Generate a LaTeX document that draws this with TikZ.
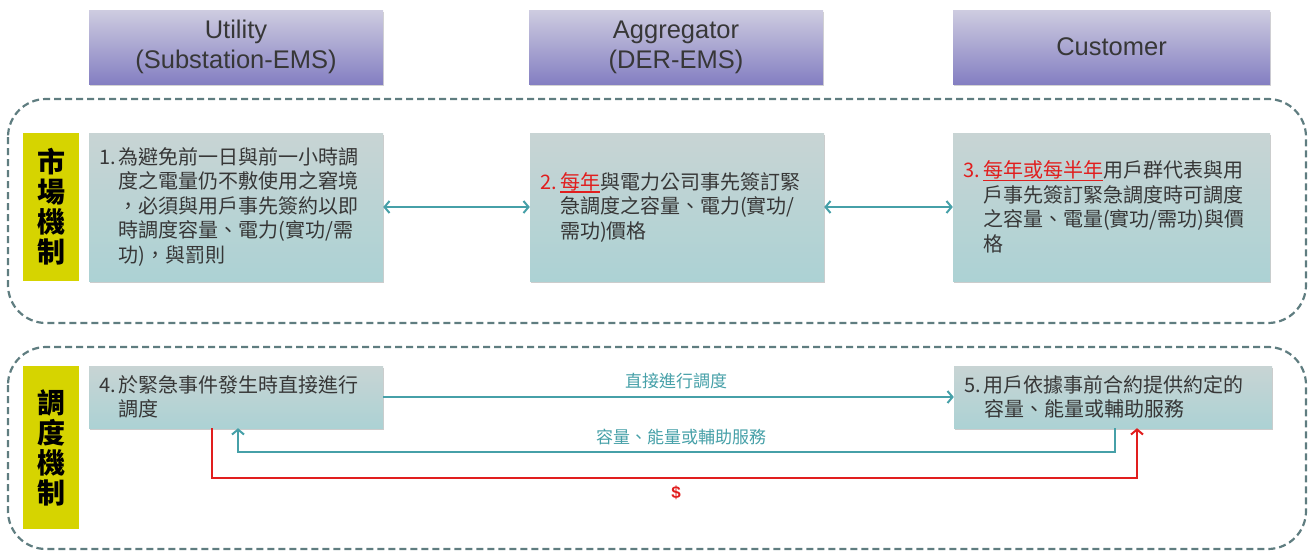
\documentclass[tikz,border=0pt]{standalone}
\usepackage{fontspec}
\setmainfont{Liberation Sans}
\newfontfamily\cjk{Noto Sans CJK TC}
\usetikzlibrary{arrows.meta,shadows}
\definecolor{hdtop}{RGB}{206,204,224}
\definecolor{hdbot}{RGB}{132,127,194}
\definecolor{bxtop}{RGB}{200,212,212}
\definecolor{bxbot}{RGB}{172,210,212}
\definecolor{dashc}{RGB}{95,125,128}
\definecolor{arrteal}{RGB}{70,160,168}
\definecolor{arrred}{RGB}{225,30,30}
\definecolor{labyel}{RGB}{214,212,0}
\definecolor{txtc}{RGB}{55,55,55}
\newcommand{\myul}[1]{\setbox0\hbox{#1}\rlap{\rule[-3.5pt]{\wd0}{1.2pt}}\box0}
\tikzset{
  hdr/.style={top color=hdtop, bottom color=hdbot, minimum width=294pt, minimum height=74pt,
    align=center, text=txtc, font=\fontsize{25.5}{30}\selectfont,
    drop shadow={shadow xshift=1pt, shadow yshift=-2pt, opacity=0.35}},
  bx/.style={top color=bxtop, bottom color=bxbot, inner xsep=10pt, align=left, text=txtc,
    font=\cjk\fontsize{20}{24.5}\selectfont,
    drop shadow={shadow xshift=1pt, shadow yshift=-2pt, opacity=0.4}},
  lab/.style={fill=labyel, minimum width=56pt, align=center, text=black,
    font=\cjk\bfseries\fontsize{28}{30}\selectfont},
  frame/.style={draw=dashc, line width=2.2pt, dash pattern=on 7pt off 4pt, rounded corners=38pt},
  tarr/.style={draw=arrteal, line width=2pt, -{Straight Barb[length=5pt,width=12pt]}},
  tarr2/.style={draw=arrteal, line width=2pt, {Straight Barb[length=5pt,width=12pt]}-{Straight Barb[length=5pt,width=12pt]}},
  rarr/.style={draw=arrred, line width=2pt, -{Straight Barb[length=5pt,width=12pt]}},
  alab/.style={text=arrteal, font=\cjk\fontsize{17}{20}\selectfont},
}
\begin{document}
\begin{tikzpicture}[x=1pt,y=-1pt]
\useasboundingbox (0,0) rectangle (1311,552);
% headers
\node[hdr] (h1) at (236,47) {Utility\\(Substation-EMS)};
\node[hdr] (h2) at (676,47) {Aggregator\\(DER-EMS)};
\node[hdr, minimum width=317pt] (h3) at (1111.5,47) {Customer};
% frames
\draw[frame] (8,99) rectangle (1306,323);
\draw[frame] (8,347) rectangle (1306,549);
% side labels
\node[lab, minimum height=148pt] (l1) at (51,207) {市\\場\\機\\制};
\node[lab, minimum height=163pt] (l2) at (51,447.5) {調\\度\\機\\制};
% market boxes
\node[bx, minimum width=294pt, minimum height=148pt, text width=274pt] (b1) at (236,207)
 {1.\,為避免前一日與前一小時調\\\hphantom{1.\,}度之電量仍不敷使用之窘境\\\hphantom{1.\,}，必須與用戶事先簽約以即\\\hphantom{1.\,}時調度容量、電力(實功/需\\\hphantom{1.\,}功)，與罰則};
\node[bx, minimum width=294pt, minimum height=148pt, text width=274pt] (b2) at (677,207)
 {{\color{arrred}2.\,\myul{每年}}與電力公司事先簽訂緊\\\hphantom{2.\,}急調度之容量、電力(實功/\\\hphantom{2.\,}需功)價格};
\node[bx, minimum width=317pt, minimum height=148pt, text width=297pt] (b3) at (1111.5,207)
 {{\color{arrred}3.\,\myul{每年或每半年}}用戶群代表與用\\\hphantom{3.\,}戶事先簽訂緊急調度時可調度\\\hphantom{3.\,}之容量、電量(實功/需功)與價\\\hphantom{3.\,}格};
% dispatch boxes
\node[bx, minimum width=294pt, minimum height=62pt, text width=274pt] (b4) at (236,397)
 {4.\,於緊急事件發生時直接進行\\\hphantom{4.\,}調度};
\node[bx, minimum width=318pt, minimum height=62pt, text width=298pt] (b5) at (1113,397)
 {5.\,用戶依據事前合約提供約定的\\\hphantom{5.\,}容量、能量或輔助服務};
% market arrows
\draw[tarr2] (b1.east) -- (b2.west);
\draw[tarr2] (b2.east) -- (b3.west);
% dispatch arrows
\draw[tarr] (b4.east) -- (b5.west);
\node[alab] (t1) at (676,381) {直接進行調度};
\coordinate (r1) at (1115,452);
\coordinate (r2) at (238,452);
\draw[tarr] (b5.south -| r1) -- (r1) -- (r2) -- (b4.south -| r2);
\node[alab] (t2) at (681,437) {容量、能量或輔助服務};
\coordinate (s1) at (212,478);
\coordinate (s2) at (1137,478);
\draw[rarr] (b4.south -| s1) -- (s1) -- (s2) -- (b5.south -| s2);
\node[text=arrred, font=\bfseries\fontsize{17}{20}\selectfont] (t3) at (676,493) {\$};
\end{tikzpicture}
\end{document}
